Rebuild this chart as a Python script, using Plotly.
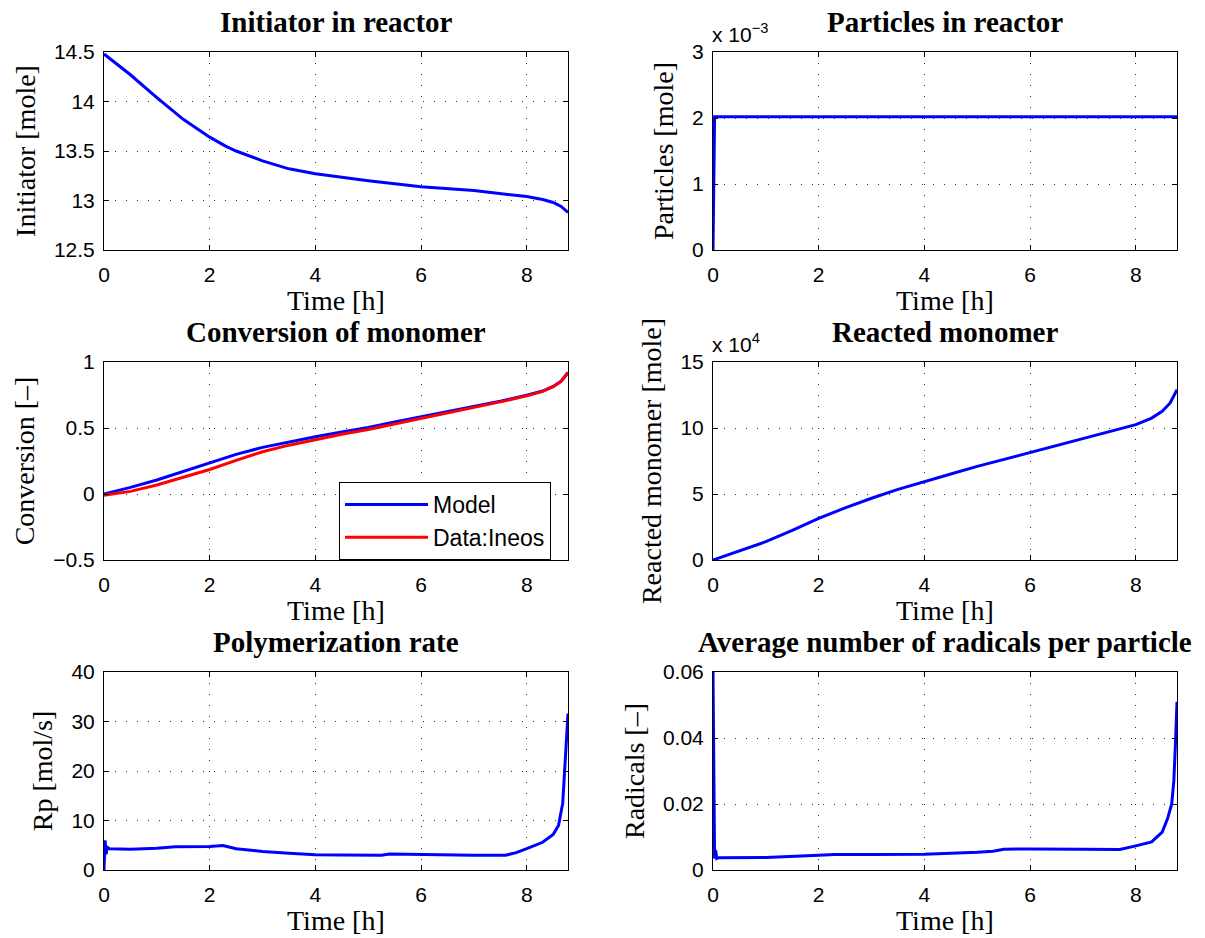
import plotly.graph_objects as go

# ---------------- data ----------------
t_init = [0, 0.5, 1, 1.5, 2, 2.3, 2.5, 3, 3.5, 4, 5, 6, 7, 8, 8.3, 8.5, 8.65, 8.78]
initiator = [14.48, 14.27, 14.04, 13.82, 13.64, 13.55, 13.50, 13.40, 13.32, 13.27,
             13.20, 13.14, 13.10, 13.04, 13.01, 12.98, 12.94, 12.88]

t_part = [0, 0.03, 8.78]
particles = [0, 2.02e-3, 2.02e-3]

t_conv = [0, 0.5, 1, 1.5, 2, 2.5, 3, 3.5, 4, 4.5, 5, 5.5, 6, 6.5, 7, 7.5, 8, 8.3, 8.5, 8.65, 8.78]
conv_model = [0, 0.05, 0.106, 0.17, 0.237, 0.30, 0.353, 0.395, 0.433, 0.47, 0.504,
              0.545, 0.584, 0.622, 0.66, 0.703, 0.748, 0.78, 0.815, 0.855, 0.92]
conv_data = [-0.01, 0.02, 0.068, 0.125, 0.186, 0.255, 0.32, 0.37, 0.413, 0.452, 0.489,
             0.53, 0.572, 0.613, 0.655, 0.698, 0.743, 0.777, 0.813, 0.853, 0.92]

t_mono = [0, 0.5, 1, 1.5, 2, 2.5, 3, 3.5, 4, 4.5, 5, 5.5, 6, 6.5, 7, 7.5, 8, 8.3, 8.5, 8.65, 8.78]
reacted = [0, 0.68e4, 1.39e4, 2.25e4, 3.16e4, 3.95e4, 4.68e4, 5.35e4, 5.95e4, 6.52e4,
           7.09e4, 7.62e4, 8.15e4, 8.66e4, 9.16e4, 9.68e4, 10.25e4, 10.75e4, 11.27e4,
           11.9e4, 12.9e4]

t_rp = [0, 0.02, 0.04, 0.06, 0.1, 0.5, 1, 1.35, 2, 2.25, 2.5, 3, 3.5, 4, 4.5, 5, 5.25,
        5.4, 6, 6.5, 7, 7.6, 7.8, 8, 8.3, 8.5, 8.6, 8.68, 8.72, 8.76, 8.78]
rp = [0, 6.0, 3.2, 4.6, 4.3, 4.2, 4.4, 4.7, 4.75, 4.95, 4.3, 3.75, 3.4, 3.1, 3.05, 3.0,
      3.0, 3.25, 3.15, 3.0, 3.0, 3.0, 3.5, 4.3, 5.6, 7.2, 9.0, 13.5, 20.0, 27.5, 31.6]

t_rad = [0, 0.01, 0.03, 0.05, 0.07, 0.1, 0.5, 1, 2, 2.3, 3, 4, 5, 5.3, 5.5, 6, 7, 7.7,
         8, 8.3, 8.5, 8.6, 8.68, 8.72, 8.75, 8.78]
radicals = [0.06, 0.03, 0.0035, 0.006, 0.0035, 0.0037, 0.0037, 0.0038, 0.0045, 0.0047,
            0.0047, 0.0048, 0.0054, 0.0057, 0.0063, 0.0064, 0.0063, 0.0062, 0.0073,
            0.0085, 0.0115, 0.0155, 0.02, 0.027, 0.038, 0.051]

titles = ["Initiator in reactor", "Particles in reactor", "Conversion of monomer",
          "Reacted monomer", "Polymerization rate",
          "Average number of radicals per particle"]
ylabels = ["Initiator [mole]", "Particles [mole]", "Conversion [\u2013]",
           "Reacted monomer [mole]", "Rp [mol/s]", "Radicals [\u2013]"]
xlabel = "Time [h]"
x_ticks = [0, 2, 4, 6, 8]
part_ticks = [0, 1e-3, 2e-3, 3e-3]
part_ticktext = ["0", "1", "2", "3"]
mono_ticks = [0, 5e4, 10e4, 15e4]
mono_ticktext = ["0", "5", "10", "15"]

BLUE = "#0000FF"
RED = "#FF0000"
SERIF = "Liberation Serif, Times New Roman, serif"
SANS = "Liberation Sans, Arial, Helvetica, sans-serif"

fig = go.Figure()

def line(x, y, ax, color=BLUE, name=None, legend=False):
    fig.add_trace(go.Scatter(x=x, y=y, mode="lines", name=name, showlegend=legend,
                             line=dict(color=color, width=3),
                             xaxis="x" + ax, yaxis="y" + ax))

line(t_init, initiator, "")
line(t_part, particles, "2")
line(t_conv, conv_model, "3", BLUE, "Model", True)
line(t_conv, conv_data, "3", RED, "Data:Ineos", True)
line(t_mono, reacted, "4")
line(t_rp, rp, "5")
line(t_rad, radicals, "6")

# layout geometry (page body has an 8px margin, so the figure is offset by 8px)
OFF = 8
W, H = 1205 - 2 * OFF, 938 - OFF
ML, MT = 104 - OFF, 52 - OFF
MR = W - (1177 - OFF)
MB = H - (870 - OFF)
IW, IH = W - ML - MR, H - MT - MB
def fx(px):
    return (px - OFF - ML) / IW
def fy(py):
    return 1 - (py - OFF - MT) / IH

col_dom = [[fx(104), fx(568)], [fx(713), fx(1177)]]
row_dom = [[fy(250), fy(52)], [fy(560), fy(362)], [fy(870), fy(672)]]

common = dict(showline=True, linecolor="black", linewidth=1, mirror="ticks",
              ticks="inside", ticklen=5, tickcolor="black", tickwidth=1,
              showgrid=True, gridcolor="#333333", gridwidth=1, griddash="1px,10px",
              zeroline=False, tickfont=dict(family=SANS, size=21, color="black"))

yspecs = [
    dict(range=[12.5, 14.5], tickvals=[12.5, 13, 13.5, 14, 14.5]),
    dict(range=[0, 3e-3], tickvals=part_ticks, ticktext=part_ticktext),
    dict(range=[-0.5, 1], tickvals=[-0.5, 0, 0.5, 1]),
    dict(range=[0, 15e4], tickvals=mono_ticks, ticktext=mono_ticktext),
    dict(range=[0, 40], tickvals=[0, 10, 20, 30, 40]),
    dict(range=[0, 0.06], tickvals=[0, 0.02, 0.04, 0.06]),
]

annotations = []
lay = {}
for i in range(6):
    r, c = i // 2, i % 2
    sfx = "" if i == 0 else str(i + 1)
    lay["xaxis" + sfx] = dict(common, domain=col_dom[c], range=[0, 8.78],
                             tickvals=x_ticks, anchor="y" + sfx, ticklabelstandoff=6)
    lay["yaxis" + sfx] = dict(common, domain=row_dom[r], anchor="x" + sfx,
                             ticklabelstandoff=4,
                             title=dict(text=ylabels[i], standoff=10,
                                        font=dict(family=SERIF, size=28, color="black")),
                             **yspecs[i])
    # panel title
    annotations.append(dict(text="<b>" + titles[i] + "</b>", xref="paper", yref="paper",
                            x=sum(col_dom[c]) / 2, y=row_dom[r][1], xanchor="center",
                            yanchor="bottom", yshift=12, showarrow=False,
                            font=dict(family=SERIF, size=29, color="black")))
    # x-axis title
    annotations.append(dict(text=xlabel, xref="paper", yref="paper",
                            x=sum(col_dom[c]) / 2, y=row_dom[r][0], xanchor="center",
                            yanchor="middle", yshift=-50, showarrow=False,
                            font=dict(family=SERIF, size=28, color="black")))

for i, exp in [(1, "\u22123"), (3, "4")]:
    r, c = i // 2, i % 2
    annotations.append(dict(text="x 10<sup>" + exp + "</sup>", xref="paper", yref="paper",
                            x=col_dom[c][0], y=row_dom[r][1], xanchor="left",
                            yanchor="bottom", yshift=4, xshift=-3, showarrow=False,
                            font=dict(family=SANS, size=21, color="black")))

fig.update_layout(
    template="none",
    width=W, height=H,
    margin=dict(l=ML, r=MR, t=MT, b=MB),
    paper_bgcolor="white", plot_bgcolor="white",
    annotations=annotations,
    legend=dict(x=fx(339), y=fy(482), xanchor="left", yanchor="top",
                bgcolor="white", bordercolor="black", borderwidth=1,
                font=dict(family=SANS, size=23, color="black"),
                tracegroupgap=0, itemwidth=83),
    **lay,
)

fig.write_html("out.html")
